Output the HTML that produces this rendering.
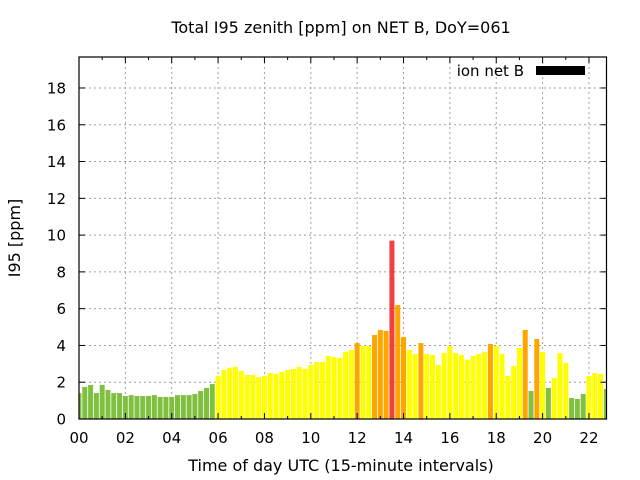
<!DOCTYPE html>
<html><head><meta charset="utf-8"><style>
body{margin:0;background:#fff}
svg{display:block;font-family:"DejaVu Sans","Liberation Sans",sans-serif}
</style></head><body>
<svg id="chart" width="640" height="480" viewBox="0 0 640 480">
<text x="341" y="33" font-size="16" text-anchor="middle">Total I95 zenith [ppm] on NET B, DoY=061</text>
<g id="grid"></g>
<g id="bars"></g>
<g id="axes"></g>
<text transform="translate(20,238) rotate(-90)" font-size="16" text-anchor="middle">I95 [ppm]</text>
<text x="341" y="471" font-size="16" text-anchor="middle">Time of day UTC (15-minute intervals)</text>
<text x="524" y="76" font-size="15" text-anchor="end">ion net B</text>
<rect x="536" y="66" width="49" height="9" fill="#000"/>
</svg>
<script>
const slots = [0,1,2,3,4,5,6,7,8,9,10,11,12,13,14,15,16,17,18,19,20,21,22,23,24,25,26,27,28,29,30,31,32,33,34,35,36,37,38,39,40,41,42,43,44,45,46,47,48,49,50,51,52,53,54,55,56,57,58,59,60,61,62,63,64,65,66,67,68,69,70,71,72,73,74,75,76,77,78,79,80,81,82,83,84,85,86,87,88,89,90,91];
const values = [1.41,1.74,1.85,1.41,1.85,1.58,1.41,1.41,1.25,1.30,1.25,1.25,1.25,1.30,1.20,1.20,1.20,1.30,1.30,1.30,1.36,1.52,1.69,1.90,
2.34,2.67,2.78,2.83,2.61,2.39,2.39,2.28,2.34,2.50,2.45,2.56,2.67,2.72,2.83,2.72,2.94,3.10,3.10,3.43,3.37,3.32,3.65,3.76,
4.13,3.97,3.97,4.57,4.84,4.79,9.70,6.20,4.46,3.76,3.54,4.13,3.54,3.48,2.94,3.59,3.97,3.59,3.48,3.21,3.43,3.54,3.65,4.08,
3.97,3.54,2.34,2.88,3.86,4.84,1.52,4.35,3.65,1.69,2.23,3.59,3.05,1.14,1.09,1.36,2.34,2.50,2.45,1.63];
const yTicks = [0,2,4,6,8,10,12,14,16,18];
const xTickLabels = ["00","02","04","06","08","10","12","14","16","18","20","22"];
const xTickHours = [0,2,4,6,8,10,12,14,16,18,20,22];

const L=79,R=606.5,T=57,B=419;
const xs = h => L + h*23.18;
const ys = v => B - v*18.39;
const NS="http://www.w3.org/2000/svg";
function mk(tag, attrs, parent){const e=document.createElementNS(NS,tag);for(const k in attrs)e.setAttribute(k,attrs[k]);parent.appendChild(e);return e;}
const grid=document.getElementById('grid'), bars=document.getElementById('bars'), axes=document.getElementById('axes');

yTicks.forEach(v=>{
  const y=ys(v);
  if(v>0){const g=mk('line',{x1:L,x2:R,y1:y,y2:y,stroke:'#a0a0a0','stroke-dasharray':'2,3','stroke-width':1},grid);
  
  }
  const t=mk('line',{x1:L,x2:L+6,y1:y,y2:y,stroke:'#000'},axes);
  
  
  const t2=mk('line',{x1:R-6,x2:R,y1:y,y2:y,stroke:'#000'},axes);
  
  
  const lb=mk('text',{x:66,y:y+5.5,'font-size':15,'text-anchor':'end'},axes);
  lb.textContent=v;
  
  
});
xTickHours.forEach((h,i)=>{
  const x=xs(h);
  if(h>0){const g=mk('line',{x1:x,x2:x,y1:T,y2:B,stroke:'#a0a0a0','stroke-dasharray':'2,3'},grid);
  
  }
  const t=mk('line',{x1:x,x2:x,y1:B-6,y2:B,stroke:'#000'},axes);
  
  
  const t2=mk('line',{x1:x,x2:x,y1:T,y2:T+6,stroke:'#000'},axes);
  
  
  const lb=mk('text',{x:x,y:443,'font-size':15,'text-anchor':'middle'},axes);
  lb.textContent=xTickLabels[i];
  
  
  const mx=xs(h+1);
  if(mx<R){
    const m=mk('line',{x1:mx,x2:mx,y1:B-3,y2:B,stroke:'#000'},axes);
    
    
    const m2=mk('line',{x1:mx,x2:mx,y1:T,y2:T+3,stroke:'#000'},axes);
    
    
  }
});
const clip=mk('clipPath',{id:'pc'},document.getElementById('chart'));
mk('rect',{x:L,y:T,width:R-L,height:B-T},clip);
bars.setAttribute('clip-path','url(#pc)');
function col(v){return v>=8?'#f04040':v>=4?'#ffa500':v>=2?'#ffff00':'#80c040';}
slots.forEach((s,i)=>{
  const v=values[i], xc=xs(s/4), y=ys(v);
  const r=mk('rect',{x:xc-2.5,y:y,width:5,height:B-y,fill:col(v)},bars);
  
  
});
const bd=mk('rect',{x:L,y:T,width:R-L,height:B-T,fill:'none',stroke:'#000','stroke-width':1.2},axes);


</script>
</body></html>
